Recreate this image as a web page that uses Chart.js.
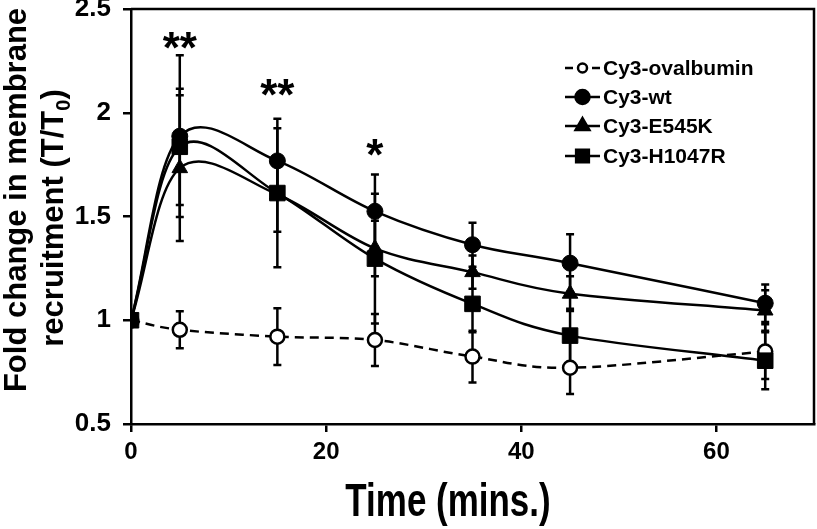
<!DOCTYPE html>
<html>
<head>
<meta charset="utf-8">
<script src="https://cdn.jsdelivr.net/npm/chart.js@4.4.0/dist/chart.umd.min.js"></script>
<style>
html, body { margin: 0; padding: 0; background: #fff; }
#wrap { width: 817px; height: 529px; }
</style>
</head>
<body>
<div id="wrap"><canvas id="recruitChart" width="817" height="529"></canvas></div>
<script>
// time points (mins) and mean fold change +/- error
var timePoints = [0, 5, 15, 25, 35, 45, 65];
var seriesNames = ['Cy3-ovalbumin', 'Cy3-wt', 'Cy3-E545K', 'Cy3-H1047R'];

var ovalbuminMean = [1, 0.954, 0.921, 0.905, 0.825, 0.771, 0.849];
var ovalbuminErr  = [0, 0.089, 0.137, 0.125, 0.125, 0.127, 0.132];
var wtMean        = [1, 1.887, 1.768, 1.525, 1.364, 1.275, 1.082];
var wtErr         = [0, 0.39, 0.157, 0.177, 0.106, 0.14, 0.09];
var e545kMean     = [1, 1.733, 1.606, 1.346, 1.232, 1.128, 1.047];
var e545kErr      = [0, 0.351, 0.18, 0.134, 0.08, 0.084, 0.097];
var h1047rMean    = [1, 1.836, 1.613, 1.297, 1.079, 0.926, 0.805];
var h1047rErr     = [0, 0.28, 0.358, 0.3125, 0.137, 0.13, 0.137];

var yTicks = [0.5, 1, 1.5, 2, 2.5];
var xTicks = [0, 20, 40, 60];

// significance stars: time, label, level (centre of the stars)
var sigTimes  = [5, 15, 25];
var sigMarks  = ['**', '**', '*'];
var sigLevels = [2.337, 2.11, 1.82];

var FONT = '"Liberation Sans", Arial, Helvetica, sans-serif';
var SMOOTH = 1 / 6; // uniform Catmull-Rom, like the spreadsheet "smoothed line"

function toPoints(values) {
    return timePoints.map(function (t, i) { return { x: t, y: values[i] }; });
}

function noPadding(s) {
    s.paddingTop = 0; s.paddingBottom = 0; s.paddingLeft = 0; s.paddingRight = 0;
}

// replace Chart.js's distance-weighted control points with uniform ones
var smoothPlugin = {
    id: 'catmullRom',
    beforeDatasetsDraw: function (chart) {
        chart.data.datasets.forEach(function (ds, di) {
            var meta = chart.getDatasetMeta(di);
            var line = meta.dataset;
            if (line.updateControlPoints) line.updateControlPoints(chart.chartArea, 'x');
            var pts = meta.data, n = pts.length;
            for (var i = 0; i < n; i++) {
                var p = pts[i], dx, dy;
                if (i === 0) {
                    dx = (pts[1].x - p.x) * 2 * SMOOTH; dy = (pts[1].y - p.y) * 2 * SMOOTH;
                } else if (i === n - 1) {
                    dx = (p.x - pts[i - 1].x) * 2 * SMOOTH; dy = (p.y - pts[i - 1].y) * 2 * SMOOTH;
                } else {
                    dx = (pts[i + 1].x - pts[i - 1].x) * SMOOTH;
                    dy = (pts[i + 1].y - pts[i - 1].y) * SMOOTH;
                }
                p.cp1x = p.x - dx; p.cp1y = p.y - dy;
                p.cp2x = p.x + dx; p.cp2y = p.y + dy;
            }
            line._path = undefined;
        });
    }
};

var errorBarPlugin = {
    id: 'errorBars',
    beforeDatasetsDraw: function (chart) {
        var ctx = chart.ctx;
        var xs = chart.scales.x, ys = chart.scales.y;
        ctx.save();
        ctx.strokeStyle = '#000';
        ctx.lineWidth = 2.5;
        chart.data.datasets.forEach(function (ds) {
            ds.data.forEach(function (p, i) {
                var e = ds.errorBars[i];
                if (!e) return;
                var px = xs.getPixelForValue(p.x);
                var top = ys.getPixelForValue(p.y + e);
                var bot = ys.getPixelForValue(p.y - e);
                ctx.beginPath();
                ctx.moveTo(px, top); ctx.lineTo(px, bot);
                ctx.moveTo(px - 4, top); ctx.lineTo(px + 4, top);
                ctx.moveTo(px - 4, bot); ctx.lineTo(px + 4, bot);
                ctx.stroke();
            });
        });
        ctx.restore();
    }
};

var decorPlugin = {
    id: 'decor',
    afterDraw: function (chart) {
        var ctx = chart.ctx;
        var a = chart.chartArea;
        var xs = chart.scales.x, ys = chart.scales.y;
        ctx.save();

        // top and right frame
        ctx.strokeStyle = '#000';
        ctx.lineWidth = 2.5;
        ctx.beginPath();
        ctx.moveTo(a.left, a.top); ctx.lineTo(a.right, a.top); ctx.lineTo(a.right, a.bottom);
        ctx.stroke();

        // significance stars
        ctx.fillStyle = '#000';
        ctx.font = 'bold 44px ' + FONT;
        ctx.textAlign = 'center';
        ctx.textBaseline = 'alphabetic';
        sigTimes.forEach(function (t, i) {
            ctx.fillText(sigMarks[i], xs.getPixelForValue(t), ys.getPixelForValue(sigLevels[i]) + 20);
        });

        // legend
        var lx0 = 565, lx1 = 600, tx = 603;
        var rowY = [68, 97, 126, 156];
        chart.data.datasets.forEach(function (ds, i) {
            var y = rowY[i];
            ctx.lineWidth = 2.5;
            ctx.setLineDash(ds.borderDash && ds.borderDash.length ? [8, 19] : []);
            ctx.beginPath(); ctx.moveTo(lx0, y); ctx.lineTo(lx1, y); ctx.stroke();
            ctx.setLineDash([]);
            ctx.fillStyle = ds.pointBackgroundColor;
            ctx.strokeStyle = '#000';
            Chart.helpers.drawPoint(ctx, {
                pointStyle: ds.pointStyle, rotation: 0,
                radius: ds.legendRadius, borderWidth: 2
            }, (lx0 + lx1) / 2, y);
            ctx.fillStyle = '#000';
            ctx.font = 'bold 21px ' + FONT;
            ctx.textAlign = 'left';
            ctx.textBaseline = 'middle';
            ctx.fillText(ds.label, tx, y + 1);
        });

        // y axis title (two lines, with subscript)
        ctx.save();
        ctx.translate(26, 200);
        ctx.rotate(-Math.PI / 2);
        ctx.textBaseline = 'alphabetic';
        ctx.textAlign = 'center';
        ctx.font = 'bold 31px ' + FONT;
        ctx.fillText('Fold change in membrane', 0, 0);
        ctx.textAlign = 'left';
        var p1 = 'recruitment (T/T', p3 = ')';
        var w1 = ctx.measureText(p1).width;
        var w3 = ctx.measureText(p3).width;
        ctx.font = 'bold 20px ' + FONT;
        var w2 = ctx.measureText('0').width;
        var start = -(w1 + w2 + w3) / 2 - 18;
        ctx.font = 'bold 31px ' + FONT;
        ctx.fillText(p1, start, 37);
        ctx.fillText(p3, start + w1 + w2, 37);
        ctx.font = 'bold 20px ' + FONT;
        ctx.fillText('0', start + w1, 44);
        ctx.restore();

        // x axis title (condensed bold)
        ctx.save();
        ctx.translate(448, 516);
        ctx.scale(0.76, 1);
        ctx.font = 'bold 46px ' + FONT;
        ctx.textAlign = 'center';
        ctx.textBaseline = 'alphabetic';
        ctx.fillText('Time (mins.)', 0, 0);
        ctx.restore();

        ctx.restore();
    }
};

function initRecruitChart() {
    var canvas = document.getElementById('recruitChart');
    var ctx = canvas.getContext('2d');

    var common = {
        borderColor: '#000',
        borderWidth: 2.5,
        tension: 0.4,
        fill: false,
        pointBorderColor: '#000',
        pointBorderWidth: 1,
        pointHoverRadius: 0
    };

    var datasets = [
        Object.assign({}, common, {
            label: seriesNames[0], data: toPoints(ovalbuminMean), errorBars: ovalbuminErr,
            borderDash: [9, 6], pointStyle: 'circle', pointRadius: 7, pointBorderWidth: 2.5,
            pointBackgroundColor: '#fff', legendRadius: 4.5, order: 4
        }),
        Object.assign({}, common, {
            label: seriesNames[1], data: toPoints(wtMean), errorBars: wtErr,
            pointStyle: 'circle', pointRadius: 8, pointBackgroundColor: '#000',
            legendRadius: 7, order: 3
        }),
        Object.assign({}, common, {
            label: seriesNames[2], data: toPoints(e545kMean), errorBars: e545kErr,
            pointStyle: 'triangle', pointRadius: 9, pointBackgroundColor: '#000',
            legendRadius: 8, order: 2
        }),
        Object.assign({}, common, {
            label: seriesNames[3], data: toPoints(h1047rMean), errorBars: h1047rErr,
            pointStyle: 'rect', pointRadius: 11, pointBackgroundColor: '#000',
            legendRadius: 9, order: 1
        })
    ];

    new Chart(ctx, {
        type: 'line',
        data: { datasets: datasets },
        plugins: [smoothPlugin, errorBarPlugin, decorPlugin],
        options: {
            responsive: false,
            animation: false,
            layout: { autoPadding: false, padding: { top: 9, right: 3, left: 0, bottom: 0 } },
            plugins: { legend: { display: false }, tooltip: { enabled: false } },
            scales: {
                x: {
                    type: 'linear', min: 0, max: 70,
                    afterBuildTicks: function (s) { s.ticks = xTicks.map(function (v) { return { value: v }; }); },
                    afterFit: function (s) { s.height = 105; noPadding(s); },
                    grid: { drawOnChartArea: false, tickLength: 8, color: '#000', lineWidth: 2.5 },
                    border: { color: '#000', width: 2.5 },
                    ticks: { color: '#000', padding: 6, font: { family: FONT, size: 24, weight: 'bold' } }
                },
                y: {
                    type: 'linear', min: 0.5, max: 2.5,
                    afterBuildTicks: function (s) { s.ticks = yTicks.map(function (v) { return { value: v }; }); },
                    afterFit: function (s) { s.width = 131; noPadding(s); },
                    grid: { drawOnChartArea: false, tickLength: 8, color: '#000', lineWidth: 2.5 },
                    border: { color: '#000', width: 2.5 },
                    ticks: {
                        color: '#000', padding: 12,
                        font: { family: FONT, size: 26, weight: 'bold' },
                        callback: function (v) { return String(v); }
                    }
                }
            }
        }
    });
}

document.addEventListener('DOMContentLoaded', initRecruitChart);
</script>
</body>
</html>
